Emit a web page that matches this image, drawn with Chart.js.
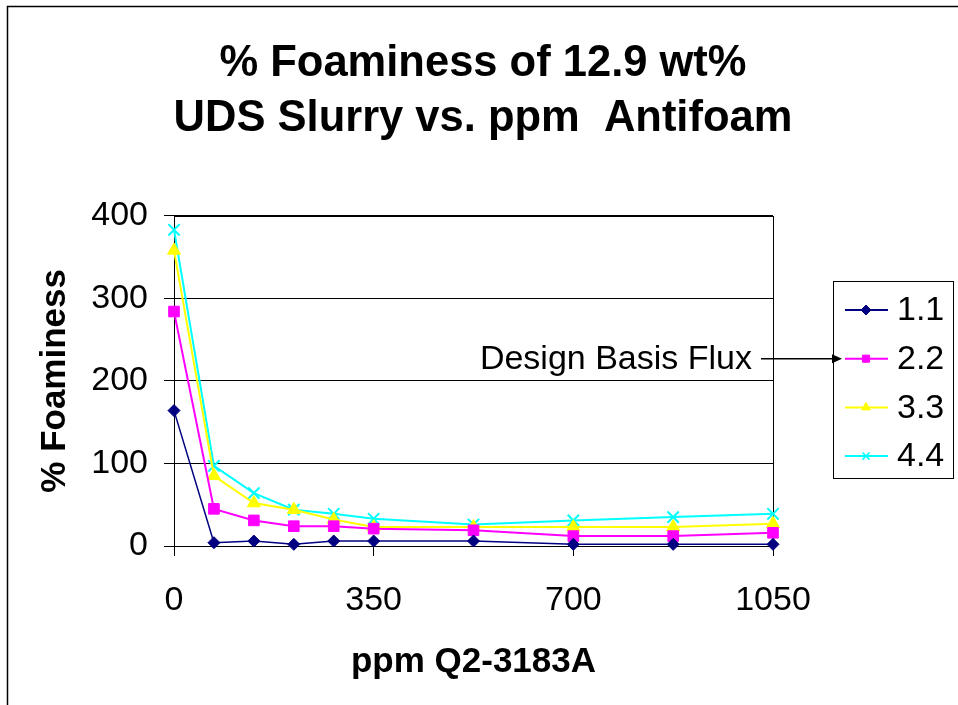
<!DOCTYPE html>
<html>
<head>
<meta charset="utf-8">
<script src="https://cdn.jsdelivr.net/npm/chart.js@4"></script>
<style>
  html, body { margin: 0; padding: 0; background: #ffffff; }
  #wrap { width: 958px; height: 705px; position: relative; }
</style>
</head>
<body>
<div id="wrap"><canvas id="c" width="958" height="705"></canvas></div>
<script>
// ---- data ----
const ppm = [0, 70, 140, 210, 280, 350, 525, 700, 875, 1050];
const flux11 = [164, 4, 6, 2, 6, 6, 6, 2, 2, 2];
const flux22 = [284, 45, 31, 24, 24, 21, 19, 12, 12, 16];
const flux33 = [358, 85, 52, 44, 32, 23, 23, 23, 23, 27];
const flux44 = [383, 97, 64, 44, 39, 33, 26, 31, 35, 39];
const seriesNames = ['1.1', '2.2', '3.3', '4.4'];
const xTicks = [0, 350, 700, 1050];
const yTicks = [0, 100, 200, 300, 400];
const titleLines = ['% Foaminess of 12.9 wt%', 'UDS Slurry vs. ppm  Antifoam'];
const xTitle = 'ppm Q2-3183A';
const yTitle = '% Foaminess';
const noteText = 'Design Basis Flux';

const FONT = '"Liberation Sans", Arial, Helvetica, sans-serif';

function pts(vals) { return ppm.map((x, i) => ({ x: x, y: vals[i] })); }

const styles = [
  { color: '#000080', point: 'rectRot', r: 6, lw: 1.5 },
  { color: '#FF00FF', point: 'rect', r: 7.5, lw: 2 },
  { color: '#FFFF00', point: 'triangle', r: 7.5, lw: 2 },
  { color: '#00FFFF', point: 'crossRot', r: 8, lw: 2 }
];
const allSeries = [flux11, flux22, flux33, flux44];

const datasets = allSeries.map((vals, i) => ({
  label: seriesNames[i],
  data: pts(vals),
  borderColor: styles[i].color,
  backgroundColor: styles[i].color,
  borderWidth: styles[i].lw,
  pointStyle: styles[i].point,
  pointRadius: styles[i].r,
  pointBorderWidth: i === 3 ? 2 : 1,
  pointBackgroundColor: styles[i].color,
  pointBorderColor: styles[i].color,
  tension: 0,
  clip: false
}));

// outer frame
const framePlugin = {
  id: 'frame',
  beforeDraw(chart) {
    const ctx = chart.ctx;
    ctx.save();
    ctx.fillStyle = '#ffffff';
    ctx.fillRect(0, 0, chart.width, chart.height);
    ctx.strokeStyle = '#000000';
    ctx.lineWidth = 1.5;
    ctx.strokeRect(7.5, 6.5, 2000, 2000);
    ctx.restore();
  },
  beforeDatasetsDraw(chart) {
    const a = chart.chartArea;
    const ctx = chart.ctx;
    ctx.save();
    ctx.strokeStyle = '#000000';
    ctx.lineWidth = 1;
    ctx.strokeRect(Math.round(a.left) + 0.5, Math.round(a.top) + 0.5,
                   Math.round(a.right - a.left), Math.round(a.bottom - a.top));
    ctx.restore();
  }
};

// custom legend + annotation arrow
const legendPlugin = {
  id: 'sideLegend',
  afterDraw(chart) {
    const ctx = chart.ctx;
    const a = chart.chartArea;
    const boxL = a.right + 60, boxT = 281, boxW = 120, boxH = 197;
    ctx.save();
    ctx.strokeStyle = '#000000';
    ctx.lineWidth = 1;
    ctx.strokeRect(boxL + 0.5, boxT + 0.5, boxW, boxH);
    ctx.font = '34px ' + FONT;
    ctx.textBaseline = 'middle';
    ctx.textAlign = 'left';
    chart.data.datasets.forEach((ds, i) => {
      const y = boxT + 29 + i * 48.7;
      ctx.strokeStyle = ds.borderColor;
      ctx.lineWidth = 2;
      ctx.beginPath();
      ctx.moveTo(boxL + 12, y);
      ctx.lineTo(boxL + 55, y);
      ctx.stroke();
      ctx.fillStyle = ds.backgroundColor;
      ctx.strokeStyle = ds.borderColor;
      ctx.lineWidth = i === 3 ? 1.5 : 1;
      Chart.helpers.drawPoint(ctx, { pointStyle: ds.pointStyle, radius: 5, rotation: 0, borderWidth: 1 }, boxL + 33, y);
      ctx.fillStyle = '#000000';
      ctx.fillText(ds.label, boxL + 64, y + 1);
    });
    // annotation
    const ay = boxT + 29 + 48.7;
    ctx.strokeStyle = '#000000';
    ctx.fillStyle = '#000000';
    ctx.lineWidth = 1.5;
    ctx.beginPath();
    ctx.moveTo(a.right - 12, ay);
    ctx.lineTo(boxL + 2, ay);
    ctx.stroke();
    ctx.beginPath();
    ctx.moveTo(boxL + 9, ay);
    ctx.lineTo(boxL - 1, ay - 4.5);
    ctx.lineTo(boxL - 1, ay + 4.5);
    ctx.closePath();
    ctx.fill();
    ctx.textAlign = 'right';
    ctx.fillText(noteText, a.right - 21, ay + 1);
    ctx.restore();
  }
};

new Chart(document.getElementById('c'), {
  type: 'line',
  data: { datasets: datasets },
  options: {
    responsive: false,
    devicePixelRatio: 1,
    animation: false,
    events: [],
    layout: { padding: { left: 8, right: 0, top: 0, bottom: 0 } },
    plugins: {
      legend: { display: false },
      tooltip: { enabled: false },
      title: {
        display: true,
        text: titleLines,
        color: '#000000',
        font: { family: FONT, size: 43.5, weight: 'bold', lineHeight: 1.25 },
        padding: { top: 37, bottom: 70 }
      }
    },
    scales: {
      x: {
        type: 'linear',
        min: 0, max: 1050,
        afterBuildTicks(scale) { scale.ticks = xTicks.map(v => ({ value: v })); },
        afterFit(scale) { scale.height = 159; },
        ticks: { color: '#000000', font: { family: FONT, size: 34 }, padding: 24, maxRotation: 0, callback: v => String(v) },
        grid: { display: true, drawOnChartArea: false, drawTicks: true, tickLength: 10, color: '#000000', lineWidth: 1 },
        border: { display: true, color: '#000000', width: 1 },
        title: { display: true, text: xTitle, color: '#000000', font: { family: FONT, size: 35, weight: 'bold', lineHeight: 1.2 }, padding: { top: 0, bottom: 22 } }
      },
      y: {
        type: 'linear',
        position: 'left',
        min: 0, max: 400,
        afterBuildTicks(scale) { scale.ticks = yTicks.map(v => ({ value: v })); },
        afterFit(scale) { scale.width = 166; },
        ticks: { color: '#000000', font: { family: FONT, size: 34 }, padding: 16, callback: v => String(v) },
        grid: { display: true, drawTicks: true, tickLength: 10, color: '#000000', lineWidth: 1 },
        border: { display: true, color: '#000000', width: 1 },
        title: { display: true, text: yTitle, color: '#000000', font: { family: FONT, size: 35, weight: 'bold', lineHeight: 1.2 }, padding: { top: 26, bottom: 0 } }
      },
      yRight: {
        type: 'linear',
        position: 'right',
        display: true,
        afterFit(scale) { scale.width = 185; },
        ticks: { display: false },
        grid: { display: false, drawTicks: false },
        border: { display: false },
        title: { display: false }
      }
    }
  },
  plugins: [framePlugin, legendPlugin]
});
</script>
</body>
</html>
